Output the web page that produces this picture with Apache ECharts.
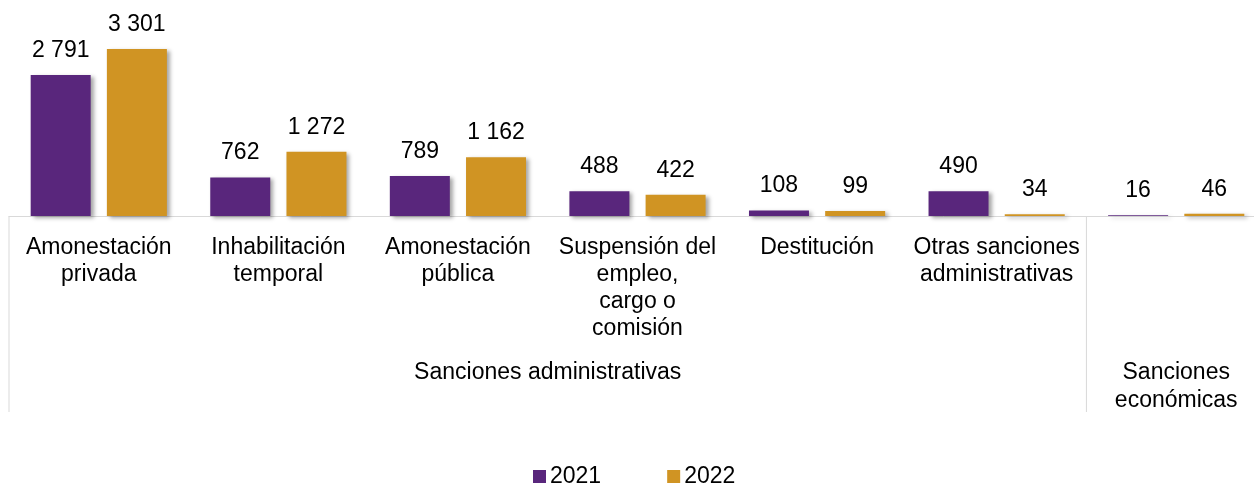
<!DOCTYPE html>
<html><head><meta charset="utf-8">
<script src="https://cdn.jsdelivr.net/npm/echarts@6/dist/echarts.min.js"></script>
<style>html,body{margin:0;padding:0;background:#fff}#c{width:1254px;height:484px}</style>
</head><body><div id="c"></div>
<script>
const categories = ["Amonestación\nprivada", "Inhabilitación\ntemporal", "Amonestación\npública", "Suspensión del\nempleo,\ncargo o\ncomisión", "Destitución", "Otras sanciones\nadministrativas", ""];
const values2021 = [2791, 762, 789, 488, 108, 490, 16];
const values2022 = [3301, 1272, 1162, 422, 99, 34, 46];
const groups = ["Sanciones administrativas", "Sanciones económicas"];
const groupSpans = [6, 1];
const seriesNames = ["2021", "2022"];

const FONT = "Liberation Sans, Arial, sans-serif";
const fmt = v => String(v).replace(/\B(?=(\d{3})+(?!\d))/g, " ");
const chart = echarts.init(document.getElementById('c'));
const barStyle = c => ({color: c, shadowColor: 'rgba(0,0,0,0.35)', shadowBlur: 4, shadowOffsetX: 3, shadowOffsetY: 2});
const lbl = {show: true, position: 'top', distance: 13, color: '#000', fontSize: 23, fontFamily: FONT, formatter: p => fmt(p.value)};
chart.setOption({
  animation: false,
  textStyle: {fontFamily: FONT},
  grid: {left: 9, width: 1257, top: 34, height: 182, outerBoundsMode: 'none', containLabel: false},
  legend: {left: 528, top: 460, itemWidth: 13, itemHeight: 13, itemGap: 66, icon: 'rect',
    textStyle: {fontSize: 23, color: '#000', fontFamily: FONT, padding: [0, 0, 0, -1]}, data: seriesNames},
  xAxis: {type: 'category', data: categories,
    axisLine: {lineStyle: {color: '#d9d9d9', width: 1}}, axisTick: {show: false},
    axisLabel: {interval: 0, margin: 18, color: '#000', fontSize: 23, lineHeight: 27, fontFamily: FONT}},
  yAxis: {type: 'value', min: 0, max: 3600, show: false, splitLine: {show: false}},
  series: [
    {name: seriesNames[0], type: 'bar', data: values2021, barWidth: 60, barGap: '27%', itemStyle: barStyle('#59267c'), label: lbl},
    {name: seriesNames[1], type: 'bar', data: values2022, barWidth: 60, itemStyle: barStyle('#d09423'), label: lbl}
  ]
});
// group separators and labels
const c0 = chart.convertToPixel({xAxisIndex: 0}, 0);
const c1 = chart.convertToPixel({xAxisIndex: 0}, 1);
const bw = c1 - c0;
const axisY = chart.convertToPixel({yAxisIndex: 0}, 0);
const els = [];
let start = 0;
const bx = i => c0 - bw / 2 + i * bw;
els.push({type: 'line', shape: {x1: bx(0), y1: axisY, x2: bx(0), y2: axisY + 196}, style: {stroke: '#d9d9d9', lineWidth: 1}});
groups.forEach((g, gi) => {
  const end = start + groupSpans[gi];
  const cx = (bx(start) + bx(end)) / 2;
  const txt = gi === 1 ? "Sanciones\neconómicas" : g;
  els.push({type: 'text', x: cx, y: axisY + 143, style: {text: txt, align: 'center', verticalAlign: 'top', fontSize: 23, lineHeight: 28, fill: '#000', fontFamily: FONT}});
  if (gi < groups.length - 1) els.push({type: 'line', shape: {x1: bx(end), y1: axisY, x2: bx(end), y2: axisY + 196}, style: {stroke: '#d9d9d9', lineWidth: 1}});
  start = end;
});
chart.setOption({graphic: els});
</script></body></html>
